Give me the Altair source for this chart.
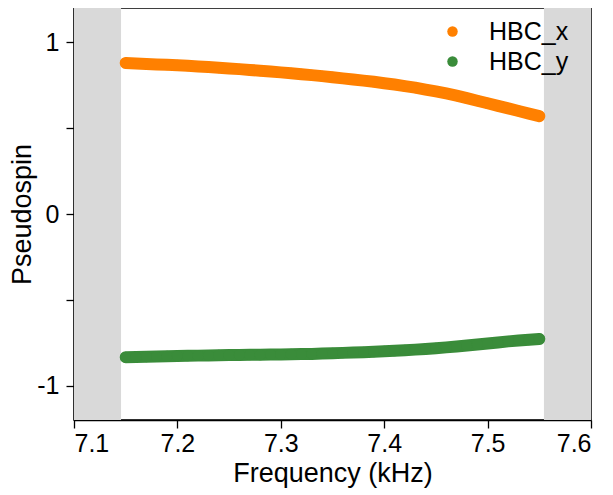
import altair as alt
import pandas as pd

freq = [7.15, 7.16, 7.17, 7.18, 7.19, 7.20, 7.21, 7.22, 7.23, 7.24, 7.25,
        7.26, 7.27, 7.28, 7.29, 7.30, 7.31, 7.32, 7.33, 7.34, 7.35,
        7.36, 7.37, 7.38, 7.39, 7.40, 7.41, 7.42, 7.43, 7.44, 7.45,
        7.46, 7.47, 7.48, 7.49, 7.50, 7.51, 7.52, 7.53, 7.54, 7.55]
hbc_x = [0.880, 0.877, 0.874, 0.871, 0.869, 0.866, 0.863, 0.859, 0.856, 0.852, 0.848,
         0.844, 0.839, 0.835, 0.830, 0.825, 0.820, 0.814, 0.809, 0.803, 0.797,
         0.790, 0.784, 0.777, 0.770, 0.762, 0.754, 0.745, 0.736, 0.725, 0.714,
         0.702, 0.689, 0.675, 0.660, 0.645, 0.630, 0.615, 0.600, 0.585, 0.570]
hbc_y = [-0.834, -0.833, -0.831, -0.830, -0.829, -0.827, -0.826, -0.825, -0.824, -0.823, -0.822,
         -0.821, -0.820, -0.820, -0.819, -0.818, -0.817, -0.816, -0.815, -0.813, -0.811,
         -0.809, -0.807, -0.805, -0.803, -0.800, -0.797, -0.794, -0.790, -0.786, -0.782,
         -0.777, -0.772, -0.766, -0.760, -0.754, -0.748, -0.742, -0.737, -0.732, -0.728]
series_names = ["HBC_x", "HBC_y"]
series_colors = ["#ff8000", "#3a8c3a"]
band_start = [7.1, 7.5545]
band_end = [7.1455, 7.6]
x_ticks = [7.1, 7.2, 7.3, 7.4, 7.5, 7.6]
y_ticks = [-1, -0.5, 0, 0.5, 1]

df = pd.DataFrame({
    "f": freq * 2,
    "v": hbc_x + hbc_y,
    "s": [series_names[0]] * len(freq) + [series_names[1]] * len(freq),
})
bands = pd.DataFrame({"a": band_start, "b": band_end})

W, H = 517, 412
FONT = "Liberation Sans"

xs = alt.Scale(domain=[7.1, 7.6], nice=False, zero=False)
ys = alt.Scale(domain=[-1.2, 1.2], nice=False, zero=False)

x_enc = alt.X("f:Q", scale=xs, axis=alt.Axis(values=x_ticks, title="Frequency (kHz)", format=".1f"))
y_enc = alt.Y("v:Q", scale=ys, axis=alt.Axis(
    values=y_ticks, title="Pseudospin",
    labelExpr="datum.value == 0.5 || datum.value == -0.5 ? '' : '' + datum.value"))
color_enc = alt.Color("s:N", scale=alt.Scale(domain=series_names, range=series_colors),
                      legend=alt.Legend(title=None, orient="none", legendX=366, legendY=11,
                                        symbolType="circle", symbolSize=110, symbolStrokeWidth=0,
                                        labelFontSize=25, labelFont=FONT, labelColor="black",
                                        labelOffset=24, rowPadding=4))

shade = alt.Chart(bands).mark_rect(color="#d9d9d9").encode(
    x=alt.X("a:Q", scale=xs, axis=alt.Axis(values=x_ticks, title="Frequency (kHz)", format=".1f")),
    x2="b:Q",
    y=alt.value(0),
    y2=alt.value(H),
)

line = alt.Chart(df).mark_line(strokeWidth=12, strokeCap="round", strokeJoin="round").encode(
    x=x_enc, y=y_enc, color=color_enc, detail="s:N",
)

pts = alt.Chart(df).mark_circle(size=120, opacity=1).encode(
    x=x_enc, y=y_enc, color=color_enc,
)

chart = alt.layer(shade, line, pts).properties(
    width=W, height=H,
    autosize=alt.AutoSizeParams(type="none"),
    padding={"left": 66, "top": 0, "right": 14, "bottom": 75},
).configure_view(stroke="black", strokeWidth=1.5).configure_axis(
    grid=False, tickSize=8, tickWidth=1.3, tickColor="black",
    domainColor="black", domainWidth=1.5,
    labelFontSize=25, labelFont=FONT, labelColor="black",
    titleFontSize=27, titleFont=FONT, titleFontWeight="normal", titleColor="black",
).configure_axisX(titlePadding=4, labelPadding=3).configure_axisY(titlePadding=0, labelPadding=7)

chart.save("out.html", embed_options={"renderer": "svg", "actions": False})
